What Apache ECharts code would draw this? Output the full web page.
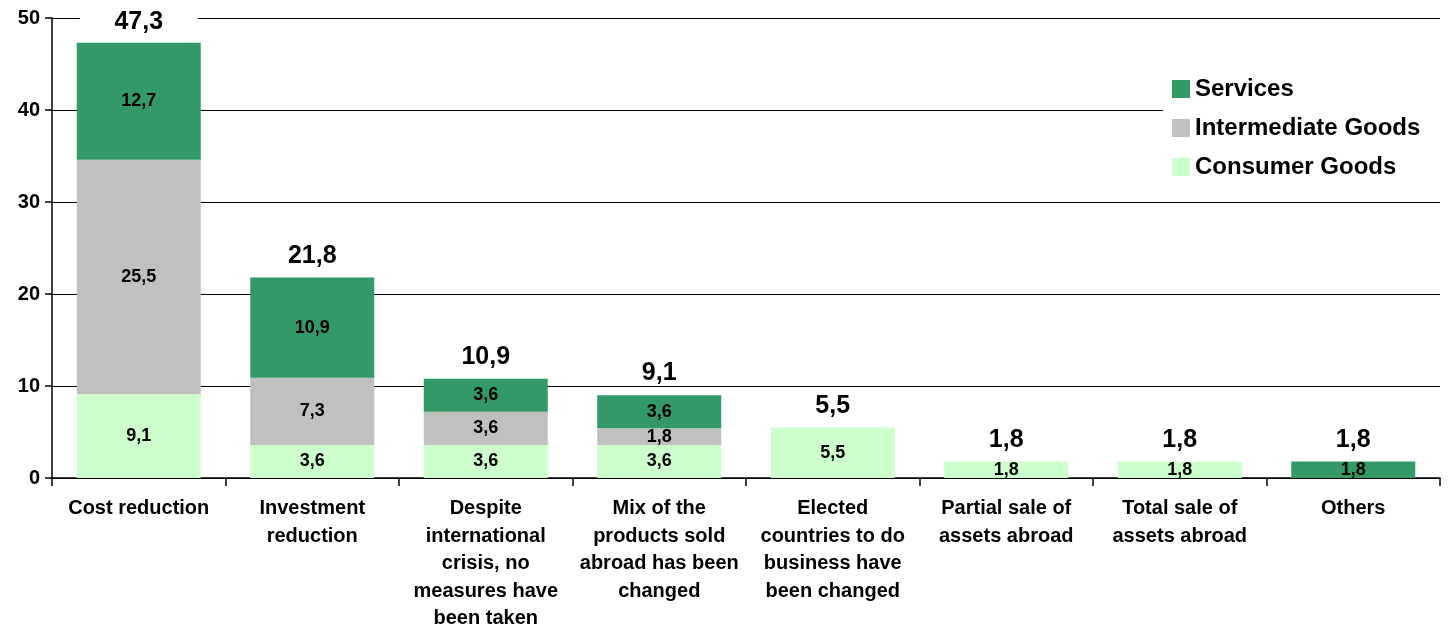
<!DOCTYPE html>
<html>
<head>
<meta charset="utf-8">
<script src="https://cdn.jsdelivr.net/npm/echarts@6/dist/echarts.min.js"></script>
<style>
  html, body { margin: 0; padding: 0; background: #fff; }
  #chart { width: 1454px; height: 630px; }
</style>
</head>
<body>
<div id="chart"></div>
<script>
const categories = [
  'Cost reduction',
  'Investment\nreduction',
  'Despite\ninternational\ncrisis, no\nmeasures have\nbeen taken',
  'Mix of the\nproducts sold\nabroad has been\nchanged',
  'Elected\ncountries to do\nbusiness have\nbeen changed',
  'Partial sale of\nassets abroad',
  'Total sale of\nassets abroad',
  'Others'
]
const consumerGoods = [9.1, 3.6, 3.6, 3.6, 5.5, 1.8, 1.8, null]
const intermediateGoods = [25.5, 7.3, 3.6, 1.8, null, null, null, null]
const services = [12.7, 10.9, 3.6, 3.6, null, null, null, 1.8]
const totals = [47.3, 21.8, 10.9, 9.1, 5.5, 1.8, 1.8, 1.8]

const font = 'Liberation Sans, Arial, sans-serif'
const fmt = (v) => (v == null ? '' : v.toFixed(1).replace('.', ','))

const segLabel = {
  show: true,
  position: 'inside',
  color: '#000',
  fontWeight: 'bold',
  fontSize: 18,
  fontFamily: font,
  formatter: (p) => fmt(p.value)
}

function stackSeries(name, data, color) {
  return {
    name,
    type: 'bar',
    stack: 'total',
    barWidth: 124,
    data,
    itemStyle: { color },
    label: segLabel
  }
}

const chart = echarts.init(document.getElementById('chart'))
chart.setOption({
  animation: false,
  backgroundColor: '#fff',
  textStyle: { fontFamily: font },
  grid: { left: 52, right: 14, top: 18, bottom: 152, outerBoundsMode: 'none' },
  legend: {
    data: ['Services', 'Intermediate Goods', 'Consumer Goods'],
    orient: 'vertical',
    left: 1163,
    top: 71,
    padding: [6, 24, 6, 9],
    itemGap: 15,
    itemWidth: 18,
    itemHeight: 18,
    icon: 'rect',
    backgroundColor: '#fff',
    textStyle: { fontSize: 24, fontWeight: 'bold', color: '#000', fontFamily: font }
  },
  xAxis: {
    type: 'category',
    data: categories,
    axisLine: { lineStyle: { color: '#000', width: 1.5 } },
    axisTick: { show: true, length: 8, lineStyle: { color: '#000', width: 1.5 } },
    axisLabel: {
      interval: 0,
      color: '#000',
      fontWeight: 'bold',
      fontSize: 20,
      lineHeight: 27.5,
      margin: 17,
      fontFamily: font
    }
  },
  yAxis: {
    type: 'value',
    min: 0,
    max: 50,
    interval: 10,
    axisLine: { show: true, lineStyle: { color: '#000', width: 1.5 } },
    axisTick: { show: true, length: 7, lineStyle: { color: '#000', width: 1.5 } },
    splitLine: { lineStyle: { color: '#000', width: 1 } },
    axisLabel: {
      color: '#000',
      fontWeight: 'bold',
      fontSize: 20,
      margin: 12,
      fontFamily: font
    }
  },
  series: [
    stackSeries('Consumer Goods', consumerGoods, '#ccffcc'),
    stackSeries('Intermediate Goods', intermediateGoods, '#c0c0c0'),
    stackSeries('Services', services, '#339966'),
    {
      name: 'Total',
      type: 'bar',
      barWidth: 124,
      barGap: '-100%',
      data: totals,
      z: 1,
      itemStyle: { color: 'transparent' },
      label: {
        show: true,
        position: 'top',
        distance: 10,
        color: '#000',
        fontWeight: 'bold',
        fontSize: 25,
        lineHeight: 22,
        fontFamily: font,
        width: 118,
        align: 'center',
        backgroundColor: '#fff',
        formatter: (p) => fmt(p.value)
      }
    }
  ]
})
</script>
</body>
</html>
